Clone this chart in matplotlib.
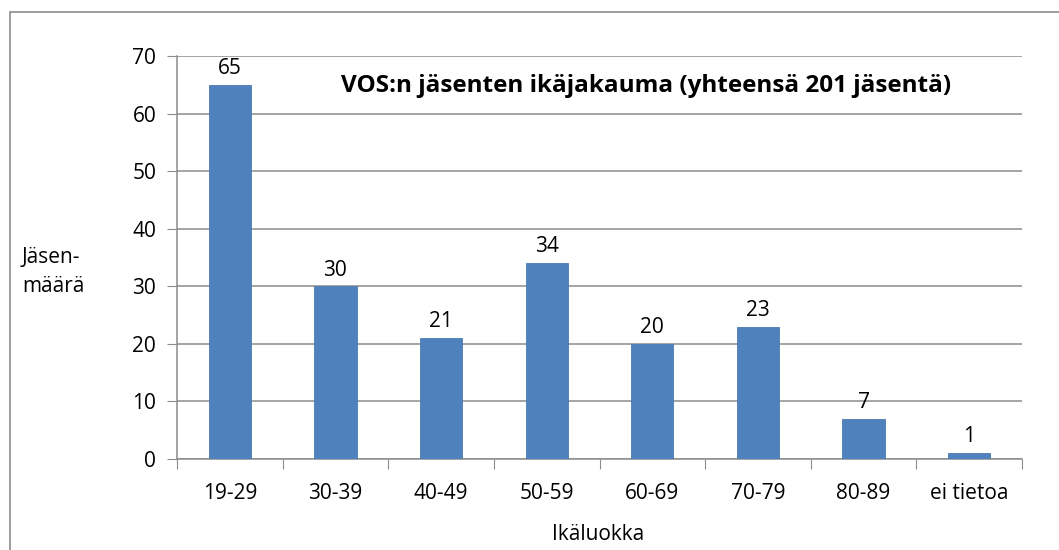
import matplotlib.pyplot as plt
from matplotlib.patches import Rectangle

categories = ["19-29", "30-39", "40-49", "50-59", "60-69", "70-79", "80-89", "ei tietoa"]
members = [65, 30, 21, 34, 20, 23, 7, 1]

plt.rcParams["font.family"] = ["Open Sans", "DejaVu Sans"]
plt.rcParams["font.size"] = 15

W, H = 1059, 550
fig = plt.figure(figsize=(W / 100, H / 100), dpi=100)
ax = fig.add_axes([177 / W, 1 - 459 / H, (1022 - 177) / W, (459 - 56) / H])

# outer chart border
fig.patches.append(Rectangle((10 / W, -0.01), 1.02 - 10 / W, 1 - 12 / H + 0.01,
                             transform=fig.transFigure, fill=False,
                             edgecolor="#8c8c8c", linewidth=1.2))

x = range(len(categories))
bars = ax.bar(x, members, width=0.4, color="#4f81bd", edgecolor="#4a7ab5", linewidth=0.6, zorder=3)
for xi, v in zip(x, members):
    ax.text(xi, v + 1.0, str(v), ha="center", va="bottom", fontsize=15)

ax.set_xlim(-0.5, len(categories) - 0.5)
ax.set_ylim(0, 70)
ax.set_yticks(range(0, 71, 10))
ax.set_xticks([i - 0.5 for i in range(len(categories) + 1)], minor=False)
ax.set_xticklabels([])
ax.set_xticks(list(x), minor=True)
ax.set_xticklabels(categories, minor=True)
ax.tick_params(axis="x", which="major", length=7, color="#8c8c8c")
ax.tick_params(axis="x", which="minor", length=0, pad=17)
ax.tick_params(axis="y", length=7, color="#8c8c8c", pad=8)

ax.grid(axis="y", color="#8c8c8c", linewidth=1.1, zorder=0)
for s in ["top", "right"]:
    ax.spines[s].set_visible(False)
for s in ["left", "bottom"]:
    ax.spines[s].set_color("#8c8c8c")
    ax.spines[s].set_linewidth(1.1)

ax.text(0.555, 0.925, "VOS:n jäsenten ikäjakauma (yhteensä 201 jäsentä)",
        transform=ax.transAxes, ha="center", va="center", fontsize=17.5, fontweight="bold")
fig.text(22 / W, 1 - 272 / H, "Jäsen-\nmäärä", ha="left", va="center", fontsize=15, linespacing=1.45)
fig.text(598 / W, 1 - 535 / H, "Ikäluokka", ha="center", va="center", fontsize=15)

fig.savefig("out.png", dpi=100)
